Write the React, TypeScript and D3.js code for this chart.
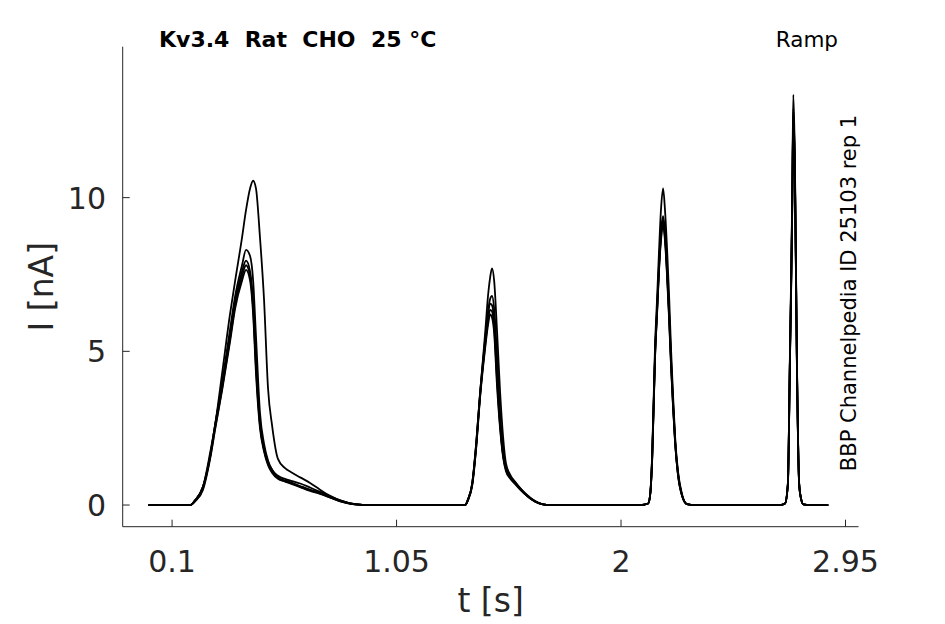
import { useRef, useEffect } from 'react';
import * as d3 from 'd3';

const W = 945;
const H = 624;
const M = { left: 122.7, right: 858.5, top: 46.7, bottom: 526.7 };

// sample times [s]: four ramp segments
const time = [
  0, 0.176, 0.197, 0.231, 0.261, 0.282, 0.312, 0.345, 0.367, 0.396, 0.413, 0.43, 0.443, 0.455,
  0.472, 0.489, 0.506, 0.523, 0.548, 0.578, 0.608, 0.642, 0.684, 0.726, 0.769, 0.811, 0.874, 0.938,
  1.298, 1.34, 1.353, 1.37, 1.387, 1.403, 1.425, 1.437, 1.446, 1.454, 1.463, 1.475, 1.488, 1.501,
  1.513, 1.53, 1.552, 1.573, 1.602, 1.636, 1.67, 1.7,
  2.081, 2.115, 2.124, 2.132, 2.144, 2.153, 2.161, 2.169, 2.178, 2.186, 2.195, 2.203, 2.212, 2.22,
  2.229, 2.241, 2.258, 2.279, 2.313,
  2.673, 2.694, 2.706, 2.715, 2.721, 2.725, 2.729, 2.734, 2.737, 2.744, 2.754, 2.762, 2.772, 2.8, 2.877,
];

// currents [nA], one array per trace
const traceA = [
  0, 0, 0.15, 0.6, 1.7, 2.6, 4.3, 6.2, 7.3, 8.7, 9.6, 10.3, 10.55, 10.3,
  8.7, 6.7, 3.8, 2.6, 1.5, 1.2, 1.05, 0.9, 0.72, 0.5, 0.3, 0.15, 0.03, 0,
  0, 0, 0.2, 0.7, 2.0, 3.6, 5.6, 6.8, 7.4, 7.7, 7.3, 5.7, 3.7, 2.2,
  1.35, 1.0, 0.75, 0.55, 0.3, 0.12, 0.02, 0,
  0, 0.05, 0.4, 1.7, 5.2, 6.8, 8.3, 9.6, 10.3, 9.6, 8.3, 6.9, 5.0, 3.6,
  2.2, 1.1, 0.35, 0.03, 0,
  0, 0.05, 0.7, 5.0, 8.0, 10.4, 13.35, 12.0, 10.4, 5.0, 0.7, 0.2, 0.02, 0, 0,
];
const traceB = [
  0, 0, 0.15, 0.6, 1.6, 2.6, 4.0, 5.7, 6.8, 7.8, 8.3, 8.1, 7.3, 5.5,
  3.0, 2.0, 1.45, 1.15, 0.95, 0.85, 0.78, 0.7, 0.57, 0.43, 0.28, 0.15, 0.03, 0,
  0, 0, 0.2, 0.7, 2.0, 3.6, 5.4, 6.3, 6.7, 6.8, 6.4, 4.9, 3.0, 1.8,
  1.25, 0.95, 0.75, 0.55, 0.33, 0.13, 0.02, 0,
  0, 0.05, 0.4, 1.6, 5.0, 6.5, 7.9, 8.9, 9.4, 8.9, 7.7, 6.4, 4.7, 3.4,
  2.1, 1.05, 0.33, 0.03, 0,
  0, 0.05, 0.68, 4.9, 7.8, 10.2, 12.9, 11.7, 10.2, 4.9, 0.68, 0.2, 0.02, 0, 0,
];
const traceC = [
  0, 0, 0.15, 0.6, 1.6, 2.6, 3.9, 5.5, 6.6, 7.6, 7.95, 7.6, 6.6, 4.7,
  2.7, 1.9, 1.4, 1.15, 0.9, 0.8, 0.72, 0.62, 0.5, 0.4, 0.27, 0.14, 0.02, 0,
  0, 0, 0.18, 0.68, 1.95, 3.55, 5.3, 6.2, 6.55, 6.5, 6.0, 4.3, 2.7, 1.65,
  1.2, 0.92, 0.72, 0.53, 0.32, 0.12, 0.02, 0,
  0, 0.05, 0.4, 1.6, 4.9, 6.4, 7.8, 8.8, 9.3, 8.8, 7.6, 6.3, 4.6, 3.3,
  2.05, 1.0, 0.32, 0.03, 0,
  0, 0.05, 0.67, 4.85, 7.7, 10.1, 12.8, 11.6, 10.1, 4.85, 0.67, 0.2, 0.02, 0, 0,
];
const traceD = [
  0, 0, 0.12, 0.55, 1.55, 2.5, 3.8, 5.4, 6.5, 7.45, 7.8, 7.45, 6.4, 4.5,
  2.6, 1.8, 1.35, 1.1, 0.88, 0.78, 0.7, 0.6, 0.48, 0.38, 0.25, 0.13, 0.02, 0,
  0, 0, 0.18, 0.65, 1.9, 3.5, 5.2, 6.0, 6.35, 6.3, 5.8, 4.1, 2.6, 1.6,
  1.15, 0.9, 0.7, 0.52, 0.3, 0.12, 0.02, 0,
  0, 0.05, 0.38, 1.55, 4.85, 6.35, 7.7, 8.7, 9.2, 8.7, 7.5, 6.2, 4.5, 3.25,
  2.0, 1.0, 0.31, 0.03, 0,
  0, 0.05, 0.66, 4.8, 7.6, 10.0, 12.7, 11.5, 10.0, 4.8, 0.66, 0.2, 0.02, 0, 0,
];
const traceE = [
  0, 0, 0.12, 0.5, 1.5, 2.45, 3.75, 5.3, 6.4, 7.3, 7.65, 7.3, 6.2, 4.3,
  2.5, 1.75, 1.3, 1.05, 0.85, 0.76, 0.68, 0.58, 0.46, 0.36, 0.24, 0.12, 0.02, 0,
  0, 0, 0.17, 0.62, 1.85, 3.45, 5.1, 5.85, 6.2, 6.1, 5.6, 3.9, 2.5, 1.55,
  1.1, 0.87, 0.68, 0.5, 0.3, 0.11, 0.02, 0,
  0, 0.05, 0.38, 1.5, 4.8, 6.3, 7.65, 8.6, 9.1, 8.6, 7.4, 6.1, 4.45, 3.2,
  2.0, 0.98, 0.3, 0.03, 0,
  0, 0.05, 0.65, 4.75, 7.5, 9.9, 12.6, 11.4, 9.9, 4.75, 0.65, 0.2, 0.02, 0, 0,
];
const traces = [traceE, traceD, traceC, traceB, traceA];

const xTicks = [0.1, 1.05, 2, 2.95];
const xTickLabels = ['0.1', '1.05', '2', '2.95'];
const yTicks = [0, 5, 10];

const title = 'Kv3.4  Rat  CHO  25 °C';
const protocol = 'Ramp';
const sideNote = 'BBP Channelpedia ID 25103 rep 1';

const FONT = '"DejaVu Sans", sans-serif';
const AX = '#262626';

export default function App() {
  const svgRef = useRef<SVGSVGElement>(null);

  useEffect(() => {
    const svg = d3.select(svgRef.current);
    svg.selectAll('*').remove();

    const x = d3.scaleLinear().domain([-0.109, 3.005]).range([M.left, M.right]);
    const y = d3.scaleLinear().domain([-0.705, 14.91]).range([M.bottom, M.top]);

    svg.append('rect').attr('width', W).attr('height', H).attr('fill', '#fff');

    // traces
    const line = d3
      .line<number>()
      .x((_, i) => x(time[i]))
      .y((d) => y(d))
      .curve(d3.curveMonotoneX);
    traces.forEach((tr) => {
      svg
        .append('path')
        .attr('d', line(tr))
        .attr('fill', 'none')
        .attr('stroke', '#000')
        .attr('stroke-width', 1.8)
        .attr('stroke-linejoin', 'round');
    });

    // axes (box off, ticks inside)
    svg
      .append('line')
      .attr('x1', M.left).attr('x2', M.left)
      .attr('y1', M.top).attr('y2', M.bottom)
      .attr('stroke', AX).attr('stroke-width', 1);
    svg
      .append('line')
      .attr('x1', M.left).attr('x2', M.right)
      .attr('y1', M.bottom).attr('y2', M.bottom)
      .attr('stroke', AX).attr('stroke-width', 1);

    xTicks.forEach((t, i) => {
      svg
        .append('line')
        .attr('x1', x(t)).attr('x2', x(t))
        .attr('y1', M.bottom).attr('y2', M.bottom - 7)
        .attr('stroke', AX);
      svg
        .append('text')
        .attr('x', x(t))
        .attr('y', 571.5)
        .attr('text-anchor', 'middle')
        .attr('font-family', FONT)
        .attr('font-size', 30)
        .attr('fill', AX)
        .text(xTickLabels[i]);
    });

    yTicks.forEach((t) => {
      svg
        .append('line')
        .attr('x1', M.left).attr('x2', M.left + 7)
        .attr('y1', y(t)).attr('y2', y(t))
        .attr('stroke', AX);
      svg
        .append('text')
        .attr('x', 106)
        .attr('y', y(t) + 11)
        .attr('text-anchor', 'end')
        .attr('font-family', FONT)
        .attr('font-size', 30)
        .attr('fill', AX)
        .text(String(t));
    });

    // axis labels
    svg
      .append('text')
      .attr('x', (M.left + M.right) / 2)
      .attr('y', 612)
      .attr('text-anchor', 'middle')
      .attr('font-family', FONT)
      .attr('font-size', 33)
      .attr('fill', AX)
      .text('t [s]');
    svg
      .append('text')
      .attr('transform', `translate(53,${(M.top + M.bottom) / 2}) rotate(-90)`)
      .attr('text-anchor', 'middle')
      .attr('font-family', FONT)
      .attr('font-size', 33)
      .attr('fill', AX)
      .text('I [nA]');

    // annotations
    svg
      .append('text')
      .attr('x', 159)
      .attr('y', 46.7)
      .attr('font-family', FONT)
      .attr('font-size', 22)
      .attr('font-weight', 700)
      .attr('fill', '#000')
      .attr('xml:space', 'preserve')
      .style('white-space', 'pre')
      .text(title);
    svg
      .append('text')
      .attr('x', 838)
      .attr('y', 46.7)
      .attr('text-anchor', 'end')
      .attr('font-family', FONT)
      .attr('font-size', 21.5)
      .attr('fill', '#000')
      .text(protocol);
    svg
      .append('text')
      .attr('transform', 'translate(856,293) rotate(-90)')
      .attr('text-anchor', 'middle')
      .attr('font-family', FONT)
      .attr('font-size', 21)
      .attr('fill', '#000')
      .text(sideNote);
  }, []);

  return (
    <svg
      ref={svgRef}
      width={W}
      height={H}
      style={{ position: 'absolute', left: 0, top: 0, display: 'block' }}
    />
  );
}
